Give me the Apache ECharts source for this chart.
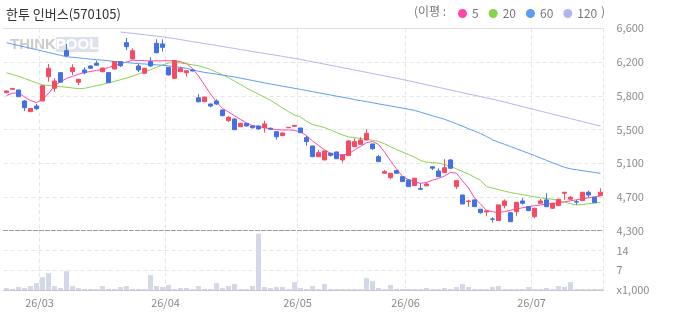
<!DOCTYPE html>
<html><head><meta charset="utf-8">
<script src="https://cdn.jsdelivr.net/npm/echarts@6/dist/echarts.min.js"></script>
<style>html,body{margin:0;padding:0;background:#fff}#c{width:673px;height:315px}</style>
</head><body><div id="c"></div><script>
const dates = [
'26/02/20','26/02/23','26/02/24','26/02/25','26/02/26','26/02/27',
'26/03/03','26/03/04','26/03/05','26/03/06','26/03/09','26/03/10','26/03/11','26/03/12','26/03/13','26/03/16','26/03/17','26/03/18','26/03/19','26/03/20','26/03/23','26/03/24','26/03/25','26/03/26','26/03/27','26/03/30','26/03/31',
'26/04/01','26/04/02','26/04/03','26/04/06','26/04/07','26/04/08','26/04/09','26/04/10','26/04/13','26/04/14','26/04/15','26/04/16','26/04/17','26/04/20','26/04/21','26/04/22','26/04/23','26/04/24','26/04/27','26/04/28','26/04/29','26/04/30',
'26/05/04','26/05/06','26/05/07','26/05/08','26/05/11','26/05/12','26/05/13','26/05/14','26/05/15','26/05/18','26/05/19','26/05/20','26/05/21','26/05/22','26/05/26','26/05/27','26/05/28','26/05/29',
'26/06/01','26/06/02','26/06/04','26/06/05','26/06/08','26/06/09','26/06/10','26/06/11','26/06/12','26/06/15','26/06/16','26/06/17','26/06/18','26/06/19','26/06/22','26/06/23','26/06/24','26/06/25','26/06/26','26/06/29','26/06/30',
'26/07/01','26/07/02','26/07/03','26/07/06','26/07/07','26/07/08','26/07/09','26/07/10','26/07/13','26/07/14','26/07/15','26/07/16'];

const opens = [5868,5907,5899,5774,5653,5717,5774,6050,5918,6096,
6346,6107,5987,6126,6172,6203,6107,6096,6138,6221,
6436,6251,6172,6089,6221,6429,6422,6157,6032,6107,
6096,6126,5810,5766,5740,5774,5672,5550,5570,5482,
5520,5490,5490,5470,5465,5425,5380,5470,5486,5467,
5357,5263,5141,5104,5180,5195,5104,5153,5255,5282,
5331,5286,5141,4953,4903,4983,4914,4877,4812,4780,
4810,5026,4979,4960,5104,4801,4706,4633,4650,4544,
4513,4434,4415,4585,4505,4517,4638,4573,4460,4612,
4650,4555,4585,4725,4658,4630,4642,4737,4680,4699];
const closes = [5888,5915,5823,5698,5690,5686,5948,6145,6001,5987,
6289,6152,6021,6095,6146,6180,6149,5982,6221,6175,
6391,6346,6126,6146,6172,6323,6384,6070,6232,6146,
6118,6115,5765,5819,5717,5740,5607,5589,5448,5520,
5490,5470,5456,5513,5453,5368,5410,5475,5497,5414,
5312,5142,5187,5207,5157,5118,5161,5320,5312,5331,
5407,5232,5085,4971,4953,4953,4858,4801,4896,4771,
4830,5010,4914,5016,5010,4869,4604,4638,4573,4505,
4525,4430,4593,4638,4403,4623,4612,4528,4555,4638,
4573,4612,4657,4737,4680,4625,4737,4706,4619,4737];
const lows = [5860,5905,5820,5660,5650,5672,5770,5993,5880,5985,
6274,6070,5956,6077,6140,6175,6100,5978,6130,6160,
6353,6245,6103,6085,6165,6315,6334,6065,6025,6100,
6050,6110,5760,5760,5702,5728,5600,5538,5445,5478,
5485,5460,5450,5414,5448,5335,5375,5470,5482,5410,
5266,5135,5136,5100,5142,5113,5073,5150,5250,5278,
5326,5218,5080,4950,4885,4950,4853,4796,4808,4768,
4806,4990,4910,4955,5005,4775,4600,4573,4570,4494,
4468,4392,4410,4555,4398,4468,4595,4522,4441,4608,
4568,4550,4580,4650,4654,4595,4638,4676,4615,4695];
const highs = [5895,5925,5902,5785,5693,5740,5950,6194,6032,6100,
6422,6191,6025,6157,6180,6232,6152,6100,6225,6225,
6490,6373,6194,6150,6270,6475,6475,6160,6235,6164,
6120,6130,5852,5822,5745,5794,5675,5604,5575,5525,
5525,5495,5495,5550,5470,5430,5415,5478,5500,5470,
5377,5268,5218,5210,5185,5198,5165,5325,5350,5362,
5453,5290,5160,4990,4956,4990,4918,4880,4900,4840,
4850,5030,5010,5112,5115,4873,4710,4650,4655,4548,
4528,4453,4598,4656,4508,4626,4670,4577,4560,4660,
4725,4616,4662,4740,4695,4650,4740,4755,4684,4782];

const ma5 = [5837,5862,5867,5820,5780,5755,5797,5859,5945,5992,
6031,6054,6078,6098,6109,6121,6134,6155,6175,6196,
6217,6238,6234,6232,6229,6230,6231,6232,6232,6220,
6200,6143,6058,5956,5854,5763,5689,5649,5606,5565,
5524,5496,5482,5470,5458,5449,5445,5445,5441,5422,
5382,5320,5269,5218,5180,5161,5161,5172,5218,5258,
5300,5314,5280,5195,5093,5002,4917,4879,4854,4839,
4848,4874,4894,4922,4962,4953,4865,4786,4672,4604,
4530,4515,4507,4517,4532,4547,4560,4573,4584,4593,
4601,4609,4617,4628,4639,4651,4662,4673,4684,4695];
const ma20 = [6096,6075,6056,6030,6005,5981,5958,5950,5943,5937,
5930,5922,5915,5918,5933,5948,5963,5980,5997,6016,
6035,6055,6081,6106,6129,6156,6183,6205,6212,6206,
6196,6185,6174,6155,6132,6101,6071,6039,6000,5962,
5922,5885,5851,5816,5782,5738,5695,5654,5615,5592,
5544,5507,5490,5472,5445,5416,5388,5366,5357,5348,
5339,5328,5315,5288,5253,5222,5194,5165,5135,5098,
5079,5074,5068,5052,5032,5003,4973,4945,4907,4873,
4802,4785,4768,4749,4734,4721,4710,4698,4685,4674,
4665,4657,4642,4624,4607,4593,4598,4606,4614,4620];
const ma60 = [6436,6420,6405,6389,6373,6357,6341,6325,6309,6293,
6277,6271,6264,6257,6250,6243,6238,6231,6224,6217,
6210,6204,6199,6194,6190,6185,6181,6173,6165,6156,
6146,6129,6112,6099,6089,6079,6068,6058,6047,6033,
6020,6007,5993,5980,5967,5955,5942,5930,5918,5906,
5893,5881,5867,5855,5842,5829,5816,5804,5790,5778,
5766,5754,5741,5730,5717,5705,5693,5681,5667,5647,
5626,5606,5586,5566,5541,5514,5487,5459,5432,5405,
5370,5334,5307,5282,5256,5231,5205,5180,5154,5127,
5099,5073,5046,5020,5003,4993,4982,4972,4962,4952];
const ma120 = ['-','-','-','-','-','-','-','-','-','-',
'-','-','-','-','-','-','-','-','-',6558,
6550,6543,6535,6527,6519,6511,6503,6494,6483,6472,
6460,6449,6438,6426,6416,6405,6393,6382,6371,6359,
6348,6336,6325,6314,6303,6292,6281,6269,6258,6247,
6233,6220,6207,6193,6180,6166,6153,6140,6126,6113,
6099,6086,6072,6059,6046,6032,6018,6004,5989,5974,
5958,5943,5929,5914,5899,5884,5868,5854,5839,5824,
5809,5795,5779,5762,5745,5728,5711,5693,5676,5659,
5642,5625,5608,5591,5574,5557,5540,5523,5506,5489];

const volumes = [0.7,0.35,1.05,0.7,1.4,2.45,4.55,5.95,1.4,0.7,
6.65,1.4,0.7,0.35,0.35,0.35,1.4,0.35,0.35,1.05,
1.4,0.35,0.35,0.35,5.25,1.4,1.05,1.75,0.35,0.7,
0.7,0.35,1.4,0.35,0.35,2.45,0.7,1.4,2.1,0.35,
0.35,1.4,19.95,1.05,0.7,1.05,1.05,0.35,2.8,0.7,
0.35,1.4,0.35,2.1,0.35,0.35,0.35,0.35,0.35,0.35,
4.2,3.15,0.7,0.35,1.75,0.35,0.35,0.35,0.35,0.35,
0.7,0.35,0.35,0.7,0.35,1.05,2.1,1.05,0.35,0.35,
0.35,1.05,1.4,0.35,0.35,0.35,0.35,1.05,0.35,0.35,
0.7,0.35,1.4,1.05,2.8,0.35,0.35,0.35,0.35,0.35];

const priceTicks = ['4,300','4,700','5,100','5,500','5,800','6,200','6,600'];
const volTicks = ['x1,000','7','14',''];
const maNames = ['5','20','60','120'];
const maColors = ['#ff45aa','#8bd24c','#5a9ef2','#b3b3f0'];

const FONT = "'Noto Sans CJK KR','Noto Sans',sans-serif";
const isMonthStart = (i) => i > 0 && dates[i].slice(3,5) !== dates[i-1].slice(3,5);
const candleData = opens.map((o,i)=>[o, closes[i], lows[i], highs[i]]);
const maData = [ma5, ma20, ma60, ma120];

const chart = echarts.init(document.getElementById('c'), null, {renderer:'canvas'});
const gridLine = {show:true, lineStyle:{color:'#e6e6e6', type:[4,3], width:1}};
chart.setOption({
  animation:false,
  textStyle:{fontFamily:FONT},
  title:{text:'한투 인버스(570105)', left:1, top:3,
    textStyle:{fontSize:13, fontWeight:'normal', color:'#333', fontFamily:FONT}},
  legend:{data:maNames, left:458, top:7.5, padding:0, icon:'circle', itemWidth:9, itemHeight:9, itemGap:10,
    selectedMode:false, textStyle:{fontSize:12, color:'#777', fontFamily:FONT}},
  graphic:[
    {type:'text', left:414, top:5.5, style:{text:'(이평 :', font:"12px 'Noto Sans CJK KR'", fill:'#777'}},
    {type:'text', left:601, top:5.5, style:{text:')', font:"12px 'Noto Sans CJK KR'", fill:'#777'}},
    {type:'text', left:10, top:37, z:-1, style:{
      text:'{a|THINK}{b|POOL}',
      rich:{a:{fontSize:15, fontWeight:'bold', fill:'#cbcbcb', fontFamily:'Liberation Sans'},
            b:{fontSize:15, fontWeight:'bold', fill:'#ffffff', fontFamily:'Liberation Sans', backgroundColor:'#dde1ea'}}}}
  ],
  grid:[
    {left:3.5, width:600, top:28.3, height:202.4},
    {left:3.5, width:600, top:230.7, height:59.3}
  ],
  xAxis:[
    {type:'category', gridIndex:0, data:dates, boundaryGap:true,
     axisLine:{show:true, lineStyle:{color:'#9a9a9a', type:[4,2], width:1}},
     axisTick:{show:false}, axisLabel:{show:false},
     splitLine:{show:true, interval:(i)=>isMonthStart(i), lineStyle:{color:'#e6e6e6', type:[4,3]}}},
    {type:'category', gridIndex:1, data:dates, boundaryGap:true,
     axisLine:{show:true, lineStyle:{color:'#c8c8c8', width:1}},
     axisTick:{show:false},
     axisLabel:{show:true, interval:(i)=>isMonthStart(i), formatter:(v)=>v.slice(0,5),
       color:'#888', fontSize:11, margin:7, padding:[0,6,0,0], fontFamily:FONT},
     splitLine:{show:true, interval:(i)=>isMonthStart(i), lineStyle:{color:'#e6e6e6', type:[4,3]}}},
    {type:'category', gridIndex:0, data:dates, position:'top',
     axisLine:{show:true, lineStyle:{color:'#dedede', width:1}},
     axisTick:{show:false}, axisLabel:{show:false}, splitLine:{show:false}}
  ],
  yAxis:[
    {type:'value', gridIndex:0, min:4300, max:6600, show:false, splitLine:{show:false}},
    {type:'value', gridIndex:0, min:0, max:priceTicks.length-1, interval:1, position:'right',
     axisLine:{show:false}, axisTick:{show:false},
     axisLabel:{formatter:(v)=>priceTicks[v], color:'#8c8c8c', fontSize:11, margin:13, fontFamily:FONT},
     splitLine:gridLine},
    {type:'value', gridIndex:1, min:0, max:(volTicks.length-1)*7, interval:7, position:'right',
     axisLine:{show:false}, axisTick:{show:false},
     axisLabel:{formatter:(v)=>volTicks[Math.round(v/7)], color:'#8c8c8c', fontSize:11, margin:13, fontFamily:FONT},
     splitLine:gridLine}
  ],
  series:[
    ...maData.map((d,k)=>({name:maNames[k], type:'line', xAxisIndex:0, yAxisIndex:0, data:d,
      showSymbol:false, symbol:'circle', color:maColors[k], lineStyle:{width:1, color:maColors[k]},
      z:2, silent:true})),
    {type:'candlestick', xAxisIndex:0, yAxisIndex:0, data:candleData, barWidth:5, z:3,
     itemStyle:{color:'#f84a63', color0:'#4271e6', borderColor:'#f84a63', borderColor0:'#4271e6', borderWidth:1}},
    {type:'bar', xAxisIndex:1, yAxisIndex:2, data:volumes, barWidth:5,
     itemStyle:{color:'#d3d8e8'}}
  ]
});
</script></body></html>
